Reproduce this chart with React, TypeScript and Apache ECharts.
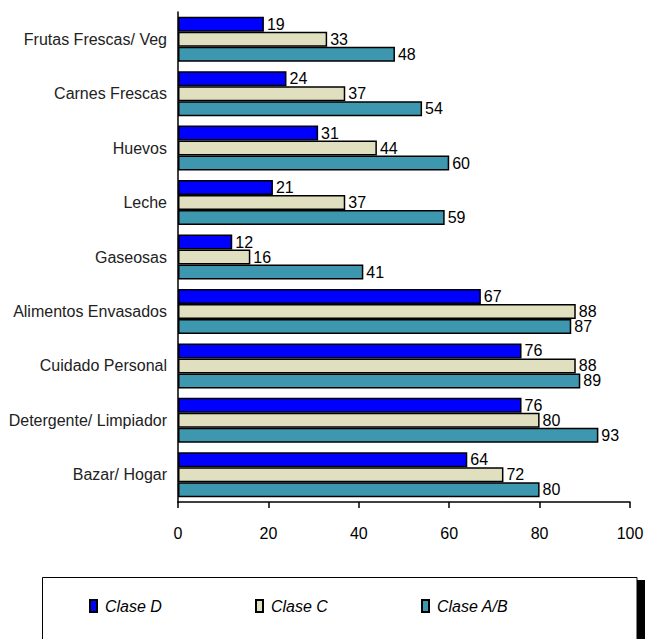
import React, { useEffect, useRef } from "react";
import * as echarts from "echarts";

const categories = [
  "Frutas Frescas/ Veg",
  "Carnes Frescas",
  "Huevos",
  "Leche",
  "Gaseosas",
  "Alimentos Envasados",
  "Cuidado Personal",
  "Detergente/ Limpiador",
  "Bazar/ Hogar",
];
const claseD = [19, 24, 31, 21, 12, 67, 76, 76, 64];
const claseC = [33, 37, 44, 37, 16, 88, 88, 80, 72];
const claseAB = [48, 54, 60, 59, 41, 87, 89, 93, 80];
const seriesNames = ["Clase D", "Clase C", "Clase A/B"];
const seriesColors = ["#0000FF", "#E0E0C0", "#3D97AF"];
const legendLefts = [89, 255, 421];

const FONT = "'Liberation Sans', Arial, sans-serif";

export default function App() {
  const ref = useRef<HTMLDivElement>(null);
  useEffect(() => {
    if (!ref.current) return;
    const chart = echarts.init(ref.current, null, { renderer: "svg" });
    const datas = [claseD, claseC, claseAB];
    chart.setOption({
      animation: false,
      backgroundColor: "#ffffff",
      textStyle: { fontFamily: FONT },
      grid: { left: 178, right: 17, top: 12, bottom: 137, containLabel: false },
      xAxis: {
        type: "value",
        min: 0,
        max: 100,
        interval: 20,
        axisLine: { show: true, lineStyle: { color: "#000", width: 1.5 } },
        axisTick: { show: true, length: 6, lineStyle: { color: "#000", width: 1.5 } },
        axisLabel: { fontSize: 16, color: "#000", margin: 23, fontFamily: FONT },
        splitLine: { show: false },
      },
      yAxis: {
        type: "category",
        data: categories,
        inverse: true,
        axisLine: { show: true, lineStyle: { color: "#000", width: 1.5 } },
        axisTick: { show: false },
        axisLabel: { fontSize: 16, color: "#222", margin: 11, fontFamily: FONT },
      },
      legend: seriesNames.map((n, i) => ({
        data: [n],
        left: legendLefts[i],
        top: 598,
        padding: 0,
        itemWidth: 7,
        itemHeight: 12,
        icon: "rect",
        textStyle: {
          fontSize: 16,
          fontStyle: "italic",
          color: "#000",
          fontFamily: FONT,
          padding: [0, 0, 0, 3],
        },
      })),
      graphic: [
        { type: "rect", shape: { x: 637, y: 580, width: 8, height: 70 }, style: { fill: "#000" } },
        {
          type: "rect",
          shape: { x: 42.5, y: 577.5, width: 594.5, height: 70 },
          style: { fill: "#fff", stroke: "#000", lineWidth: 1 },
        },
      ],
      series: seriesNames.map((n, i) => ({
        name: n,
        type: "bar",
        data: datas[i],
        barWidth: 15,
        barGap: "0%",
        itemStyle: { color: seriesColors[i], borderColor: "#000", borderWidth: 1.5 },
        label: {
          show: true,
          position: "right",
          distance: 3,
          fontSize: 16,
          color: "#000",
          fontFamily: FONT,
        },
      })),
    });
    return () => chart.dispose();
  }, []);
  return (
    <div
      ref={ref}
      style={{ position: "absolute", left: 0, top: 0, width: 647, height: 639 }}
    />
  );
}
